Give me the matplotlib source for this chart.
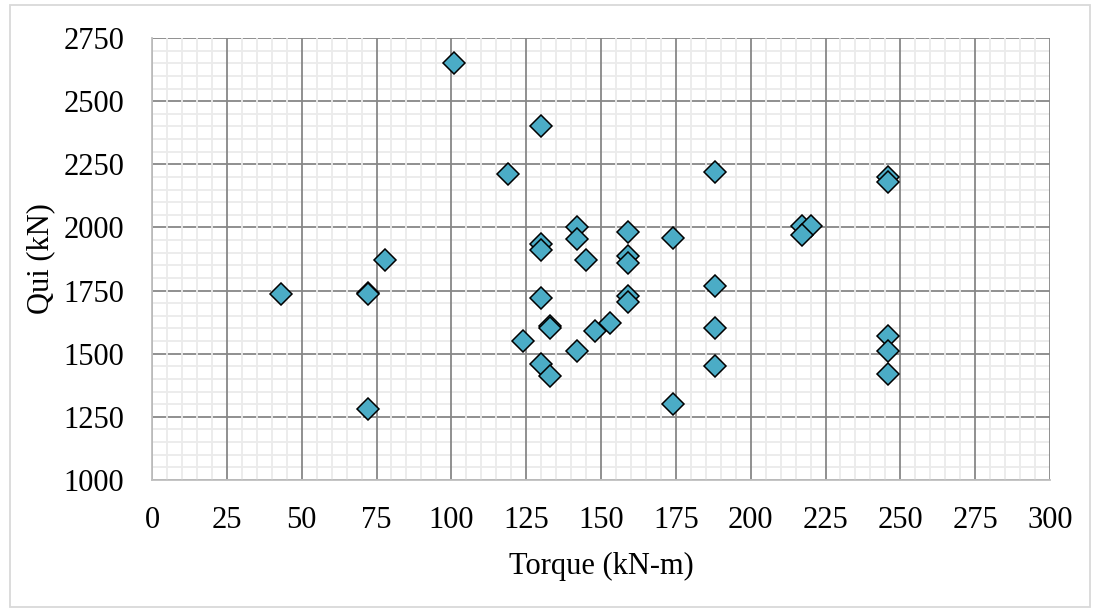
import numpy as np
import matplotlib.pyplot as plt
from matplotlib.patches import Rectangle
from matplotlib.ticker import MultipleLocator

plt.rcParams['font.family'] = ['Liberation Serif', 'DejaVu Serif']

torque = [43, 72, 72, 72, 78, 101, 119, 130, 130, 130, 130, 130, 133, 133, 133, 124,
          142, 142, 145, 142, 148, 153, 159, 159, 159, 159, 159, 174, 174,
          188, 188, 188, 188, 217, 220, 217, 246, 246, 246, 246, 246]
qui = [1735, 1740, 1735, 1280, 1870, 2650, 2210, 2400, 1935, 1910, 1720, 1460, 1410, 1610, 1600, 1550,
       2000, 1955, 1870, 1510, 1590, 1620, 1980, 1885, 1860, 1730, 1705, 1960, 1300,
       2220, 1770, 1600, 1450, 2005, 2005, 1970, 2200, 2180, 1570, 1510, 1420]

fig = plt.figure(figsize=(10.94, 6.08), dpi=100)
ax = fig.add_axes([152/1094, 1-480/608, (1050-152)/1094, (480-38)/608])

ax.set_xlim(0, 300)
ax.set_ylim(1000, 2750)
ax.xaxis.set_major_locator(MultipleLocator(25))
ax.xaxis.set_minor_locator(MultipleLocator(5))
ax.yaxis.set_major_locator(MultipleLocator(250))
ax.yaxis.set_minor_locator(MultipleLocator(50))

# excel-like look: y grid drawn first, then vertical minor lines cut across the horizontal majors
ax.grid(which='minor', axis='y', color='#ebebeb', lw=1.3)
ax.grid(which='major', axis='y', color='#878787', lw=1.3)
ax.grid(which='minor', axis='x', color='#ebebeb', lw=1.3)
ax.grid(which='major', axis='x', color='#878787', lw=1.3)
ax.yaxis.set_zorder(0.5)
ax.xaxis.set_zorder(0.6)

for s in ['top', 'right']:
    ax.spines[s].set_visible(False)
for s in ['left', 'bottom']:
    ax.spines[s].set_color('#bfbfbf')
    ax.spines[s].set_linewidth(1.3)
    ax.spines[s].set_zorder(1)

ax.tick_params(which='both', length=0, labelsize=22)
ax.tick_params(axis='y', pad=20)
ax.tick_params(axis='x', pad=19)

ax.plot(torque, qui, ls='none', marker='D', ms=11.5, mfc='#4bacc6', mec='black', mew=1.1, zorder=3)

ax.set_xlabel('Torque (kN-m)', fontsize=22, labelpad=12)
ax.set_ylabel('Qui (kN)', fontsize=22, labelpad=6)

fig.patches.append(Rectangle((10/1094, 0.002), 1080/1094, 0.99, transform=fig.transFigure,
                             fill=False, ec='#d9d9d9', lw=1.3))

plt.savefig('out.png', dpi=100)
